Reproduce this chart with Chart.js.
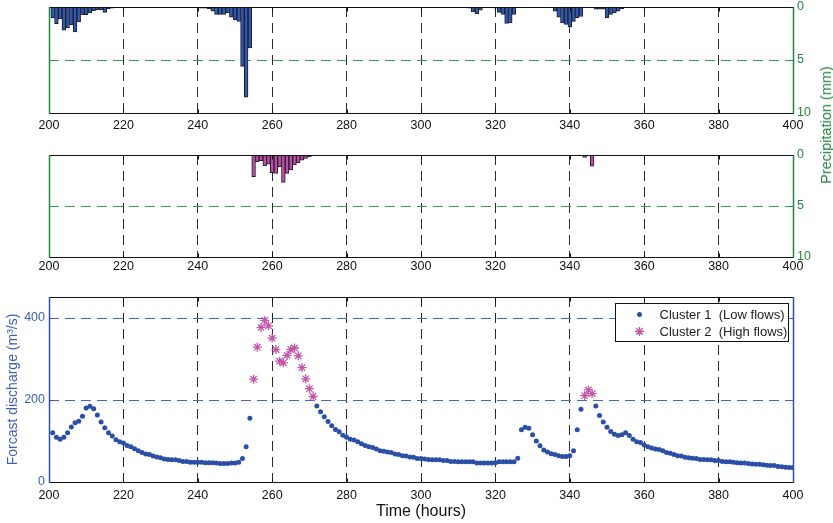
<!DOCTYPE html>
<html>
<head>
<meta charset="utf-8">
<script src="https://cdn.jsdelivr.net/npm/chart.js@4.4.1/dist/chart.umd.min.js"></script>
<style>
  html, body { margin: 0; padding: 0; background: #fff; }
  #page { position: relative; width: 833px; height: 523px; overflow: hidden; }
  #page canvas { position: absolute; left: 0; }
  #precipTitle {
    position: absolute; left: 826px; top: 125px;
    transform: translate(-50%, -50%) rotate(-90deg);
    white-space: nowrap; color: #23853f;
    font: 14.5px "Liberation Sans", Arial, sans-serif;
  }
</style>
</head>
<body>
<div id="page">
  <canvas id="rainLow" width="833" height="160" style="top:-20px"></canvas>
  <canvas id="rainHigh" width="833" height="150" style="top:128px"></canvas>
  <canvas id="flow" width="833" height="253" style="top:270px"></canvas>
  <div id="precipTitle">Precipitation (mm)</div>
</div>
<script>
// hourly rainfall (mm) split by flow cluster
const rainLowHours = [201, 202, 203, 204, 205, 206, 207, 208, 209, 210, 211, 212, 213, 214, 215, 216, 217, 218,
  237, 238, 239, 240, 241, 242, 243, 244, 245, 246, 247, 248, 249, 250, 251, 252, 253, 254,
  272, 273, 274, 275, 304, 305, 306, 313, 314, 315, 316, 320, 321, 322, 323, 324, 325,
  335, 336, 337, 338, 339, 340, 341, 342, 343, 347, 348, 349, 350, 351, 352, 353, 354, 355];
const rainLowMm = [1.03, 1.57, 1.13, 2.19, 1.97, 1.66, 2.35, 1.41, 0.72, 0.72, 0.56, 0.35, 0.25, 0.25, 0.5, 0.15, 0.1, 0.05,
  0.05, 0.05, 0.05, 0.05, 0.1, 0.1, 0.15, 0.4, 0.7, 0.7, 0.7, 0.55, 0.95, 1.2, 1.35, 5.6, 8.5, 3.85,
  0.05, 0.05, 0.05, 0.05, 0.05, 0.05, 0.05, 0.1, 0.47, 0.63, 0.3, 0.1, 0.5, 0.7, 1.55, 1.5, 0.7,
  0.05, 0.4, 0.95, 1.5, 1.65, 1.88, 1.35, 1.0, 0.9, 0.2, 0.2, 0.2, 1.0, 0.7, 0.55, 0.4, 0.17, 0.05];
const rainHighHours = [255, 256, 257, 258, 259, 260, 261, 262, 263, 264, 265, 266, 267, 268, 269, 270, 271, 344, 345, 346];
const rainHighMm = [2.13, 0.66, 0.56, 1.08, 0.9, 1.74, 1.8, 1.15, 2.69, 1.8, 1.47, 0.98, 0.75, 0.5, 0.33, 0.16, 0.07, 0.25, 0.1, 1.1];

// forecast discharge (m3/s), one value per hour from lowFlowStart; null = hour is in cluster 2
const lowFlowStart = 201;
const lowFlow = [
  120, 109, 104, 109, 120, 134, 144, 148, 160, 180, 184, 178, 163, 146, 132, 120, 112, 103, 98, 95,
  89, 86, 81, 76, 72, 68, 67, 63, 61, 59, 56, 55, 54, 54, 52, 50, 50, 48, 48, 48,
  48, 47, 47, 47, 46, 45, 45, 45, 46, 46, 48, 57, 86, 155,
  null, null, null, null, null, null, null, null, null, null, null, null, null, null, null, null, null,
  185, 171, 159, 147, 137, 128, 122, 114, 109, 104, 102, 98, 93, 89, 86, 84, 80, 76, 75, 73,
  72, 68, 67, 64, 63, 61, 60, 57, 57, 56, 55, 54, 54, 54, 52, 52, 50, 50, 49, 49,
  49, 49, 49, 46, 46, 46, 46, 46, 47, 49, 49, 49, 49, 49, 58, 127, 133, 131, 115, 100,
  88, 78, 73, 69, 67, 64, 62, 62, 64, 76, 127, 177, null, null, null,
  185, 162, 146, 133, 123, 116, 113, 115, 120, 113, 104, 98, 96, 90, 86, 83, 80, 79, 76, 72,
  70, 67, 64, 63, 60, 59, 58, 57, 55, 55, 54, 54, 52, 52, 50, 49, 49, 48, 47, 46,
  46, 45, 44, 43, 43, 42, 41, 40, 40, 38, 37, 36, 35, 35];
const highFlowHours = [255, 256, 257, 258, 259, 260, 261, 262, 263, 264, 265, 266, 267, 268, 269, 270, 271, 344, 345, 346];
const highFlow = [250, 328, 376, 393, 380, 350, 322, 294, 290, 308, 322, 326, 307, 278, 251, 227, 208, 210, 224, 215];

const timeTicks = [200, 220, 240, 260, 280, 300, 320, 340, 360, 380, 400];
const rainTicks = [0, 5, 10];
const flowTicks = [0, 200, 400];

const GREEN = '#23853f';
const GREEN_GRID = '#2f9d52';
const BLUE_AXIS = '#2f50a5';
const BLUE_GRID = '#4468c4';
const BLUE_TEXT = '#3c5fb8';
const FONT = '"Liberation Sans", Arial, sans-serif';
const DASH = [10, 6];

const setTicks = list => scale => { scale.ticks = list.map(v => ({ value: v })); };
// vertical grid: one colour per tick, the two end ticks sit on the frame
const gridColors = (list, color) => list.map((v, i) => (i > 0 && i < list.length - 1) ? color : 'rgba(0,0,0,0)');

// matlab-style axes: dashed horizontal grid under the data, box and inward ticks on top
const axesBox = {
  id: 'axesBox',
  beforeDatasetsDraw(chart, args, opts) {
    const { ctx, chartArea: a, scales: { y } } = chart;
    ctx.save();
    ctx.strokeStyle = opts.hGrid;
    ctx.lineWidth = 1;
    ctx.setLineDash(DASH);
    y.ticks.forEach(t => {
      if (t.value <= y.min || t.value >= y.max) return;
      const py = Math.round(y.getPixelForValue(t.value)) + 0.5;
      ctx.beginPath();
      ctx.moveTo(a.left, py);
      ctx.lineTo(a.right, py);
      ctx.stroke();
    });
    ctx.restore();
  },
  afterDraw(chart, args, opts) {
    const { ctx, chartArea: a, scales } = chart;
    const L = Math.round(a.left) + 0.5, R = Math.round(a.right) + 0.5;
    const T = Math.round(a.top) + 0.5, B = Math.round(a.bottom) + 0.5;
    ctx.save();
    const line = (x1, y1, x2, y2, color, w) => {
      ctx.strokeStyle = color; ctx.lineWidth = w;
      ctx.beginPath(); ctx.moveTo(x1, y1); ctx.lineTo(x2, y2); ctx.stroke();
    };
    scales.x.ticks.forEach(t => {
      const px = Math.round(scales.x.getPixelForValue(t.value)) + 0.5;
      line(px, B, px, B - 4, '#111', 1);
      line(px, T, px, T + 4, '#111', 1);
    });
    scales.y.ticks.forEach(t => {
      const py = Math.round(scales.y.getPixelForValue(t.value)) + 0.5;
      if (opts.tickSide === 'right') line(R, py, R - 4, py, opts.right, 1);
      else line(L, py, L + 4, py, opts.left, 1);
    });
    line(L, T, R, T, opts.top, 1);
    line(L, B, R, B, opts.bottom, 1);
    line(L, T, L, B, opts.left, 1.5);
    line(R, T, R, B, opts.right, 1.5);
    ctx.restore();
  }
};

// boxed legend in the upper right corner of the discharge plot
const clusterLegend = {
  id: 'clusterLegend',
  afterDraw(chart) {
    const { ctx, chartArea: a } = chart;
    const w = 173, h = 38;
    const x0 = Math.round(a.right - 5 - w) + 0.5, y0 = Math.round(a.top + 6) + 0.5;
    ctx.save();
    ctx.fillStyle = '#fff';
    ctx.fillRect(x0, y0, w, h);
    ctx.strokeStyle = '#111';
    ctx.lineWidth = 1;
    ctx.strokeRect(x0, y0, w, h);
    ctx.font = '13px ' + FONT;
    ctx.textBaseline = 'middle';
    chart.data.datasets.forEach((ds, i) => {
      const cy = y0 + 11 + i * 17;
      ctx.fillStyle = ds.backgroundColor;
      ctx.strokeStyle = ds.borderColor;
      ctx.lineWidth = ds.borderWidth;
      Chart.helpers.drawPoint(ctx, { pointStyle: ds.pointStyle, radius: ds.pointRadius, borderWidth: ds.borderWidth, rotation: 0 }, x0 + 24, cy);
      ctx.fillStyle = '#222';
      ctx.fillText(ds.label, x0 + 44, cy + 0.5);
    });
    ctx.restore();
  }
};

function rainChart(id, hours, mm, fill, labelPad, xHeight) {
  return new Chart(document.getElementById(id), {
    type: 'bar',
    data: {
      datasets: [{
        data: hours.map((h, i) => ({ x: h, y: mm[i] })),
        backgroundColor: fill,
        borderColor: '#1d1d2b',
        borderWidth: 1,
        barPercentage: 1,
        categoryPercentage: 1
      }]
    },
    options: {
      responsive: false,
      animation: false,
      events: [],
      layout: { padding: { left: 49, top: 27, right: 0, bottom: 0 } },
      plugins: {
        legend: { display: false },
        tooltip: { enabled: false },
        axesBox: { top: '#111', bottom: '#111', left: GREEN, right: GREEN, tickSide: 'right', hGrid: GREEN_GRID }
      },
      scales: {
        x: {
          type: 'linear', min: 200, max: 400, offset: false,
          afterBuildTicks: setTicks(timeTicks),
          afterFit: s => { s.height = xHeight; },
          grid: { offset: false, color: gridColors(timeTicks, '#2a2a2a'), drawTicks: false },
          border: { display: false, dash: DASH },
          ticks: { color: '#111', padding: labelPad, maxRotation: 0, font: { family: FONT, size: 12.5 } }
        },
        y: {
          position: 'right', reverse: true, min: 0, max: 10,
          afterBuildTicks: setTicks(rainTicks),
          afterFit: s => { s.width = 40; },
          grid: { display: false, drawTicks: false },
          border: { display: false },
          ticks: { color: GREEN, padding: 4, font: { family: FONT, size: 12.5 } }
        }
      }
    },
    plugins: [axesBox]
  });
}

rainChart('rainLow', rainLowHours, rainLowMm, '#3158b0', 5, 27);
rainChart('rainHigh', rainHighHours, rainHighMm, '#c04ea6', 2.5, 21.3);

new Chart(document.getElementById('flow'), {
  type: 'scatter',
  data: {
    datasets: [{
      label: 'Cluster 1  (Low flows)',
      data: lowFlow.map((v, i) => ({ x: lowFlowStart + i, y: v })),
      pointStyle: 'circle',
      pointRadius: 2.5,
      borderWidth: 0,
      backgroundColor: '#2b4ea6',
      borderColor: '#2b4ea6'
    }, {
      label: 'Cluster 2  (High flows)',
      data: highFlowHours.map((h, i) => ({ x: h, y: highFlow[i] })),
      pointStyle: 'star',
      pointRadius: 4.5,
      borderWidth: 1.3,
      backgroundColor: '#c156a9',
      borderColor: '#c156a9'
    }]
  },
  options: {
    responsive: false,
    animation: false,
    events: [],
    layout: { padding: { left: 0, top: 27, right: 40, bottom: 0 } },
    plugins: {
      legend: { display: false },
      tooltip: { enabled: false },
      axesBox: { top: '#111', bottom: '#111', left: BLUE_AXIS, right: BLUE_AXIS, tickSide: 'left', hGrid: BLUE_GRID }
    },
    scales: {
      x: {
        type: 'linear', min: 200, max: 400,
        afterBuildTicks: setTicks(timeTicks),
        afterFit: s => { s.height = 41; },
        grid: { color: gridColors(timeTicks, '#2a2a2a'), drawTicks: false },
        border: { display: false, dash: DASH },
        ticks: { color: '#111', padding: 6, maxRotation: 0, font: { family: FONT, size: 12.5 } },
        title: { display: true, text: 'Time (hours)', color: '#111', font: { family: FONT, size: 16 }, padding: { top: 0, bottom: 2 } }
      },
      y: {
        min: 0, max: 450,
        afterBuildTicks: setTicks(flowTicks),
        afterFit: s => { s.width = 49; },
        grid: { display: false, drawTicks: false },
        border: { display: false },
        ticks: { color: BLUE_TEXT, padding: 4, font: { family: FONT, size: 12.5 } },
        title: { display: true, text: 'Forcast discharge (m³/s)', color: BLUE_TEXT, font: { family: FONT, size: 14 }, padding: { top: 5, bottom: 0 } }
      }
    }
  },
  plugins: [axesBox, clusterLegend]
});
</script>
</body>
</html>
